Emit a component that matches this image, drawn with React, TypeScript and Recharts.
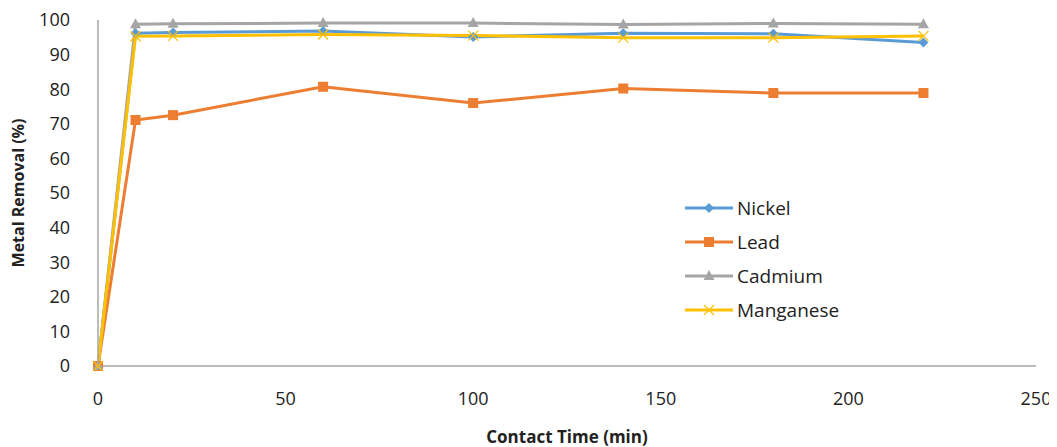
import React from "react";
import { LineChart, Line, XAxis, YAxis } from "recharts";

const contactTime = [0, 10, 20, 60, 100, 140, 180, 220];
const nickel = [0, 96.2, 96.4, 96.8, 95.1, 96.2, 96.0, 93.5];
const lead = [0, 71.1, 72.5, 80.7, 76.0, 80.2, 78.9, 78.9];
const cadmium = [0, 98.8, 98.9, 99.1, 99.1, 98.7, 99.0, 98.8];
const manganese = [0, 95.3, 95.4, 95.8, 95.5, 94.9, 94.9, 95.4];
const xTicks = [0, 50, 100, 150, 200, 250];
const yTicks = [0, 10, 20, 30, 40, 50, 60, 70, 80, 90, 100];

const data = contactTime.map((t, i) => ({
  t,
  Nickel: nickel[i],
  Lead: lead[i],
  Cadmium: cadmium[i],
  Manganese: manganese[i],
}));

const FONT = "'Open Sans', 'Liberation Sans', sans-serif";

type Shape = "diamond" | "square" | "triangle" | "cross";

const series: { key: string; color: string; shape: Shape }[] = [
  { key: "Nickel", color: "#5B9BD5", shape: "diamond" },
  { key: "Lead", color: "#ED7D31", shape: "square" },
  { key: "Cadmium", color: "#A5A5A5", shape: "triangle" },
  { key: "Manganese", color: "#FFC000", shape: "cross" },
];

function Marker({ cx, cy, shape, color }: { cx: number; cy: number; shape: Shape; color: string }) {
  if (cx == null || cy == null) return null;
  if (shape === "diamond")
    return <path d={`M${cx},${cy - 5}L${cx + 5},${cy}L${cx},${cy + 5}L${cx - 5},${cy}Z`} fill={color} />;
  if (shape === "square")
    return <rect x={cx - 5} y={cy - 5} width={10} height={10} fill={color} />;
  if (shape === "triangle")
    return <path d={`M${cx},${cy - 6}L${cx + 5.5},${cy + 4}L${cx - 5.5},${cy + 4}Z`} fill={color} />;
  return (
    <path
      d={`M${cx - 5},${cy - 5}L${cx + 5},${cy + 5}M${cx - 5},${cy + 5}L${cx + 5},${cy - 5}`}
      stroke={color}
      strokeWidth={1.2}
      fill="none"
    />
  );
}

// legend sits over the plot, same spot as in the source figure
function LegendBox() {
  return (
    <div style={{ position: "absolute", left: 677, top: 183, fontFamily: FONT, fontSize: 19, color: "#222" }}>
      {series.map((s) => (
        <div key={s.key} style={{ display: "flex", alignItems: "center", height: 34 }}>
          <svg width={52} height={14}>
            <line x1={0} y1={7} x2={48} y2={7} stroke={s.color} strokeWidth={3} />
            <Marker cx={24} cy={7} shape={s.shape} color={s.color} />
          </svg>
          <span>{s.key}</span>
        </div>
      ))}
    </div>
  );
}

export default function App() {
  return (
    <div style={{ width: 1049, height: 439, background: "#fff", position: "relative" }}>
      <LineChart
        width={1049}
        height={439}
        data={data}
        margin={{ top: 12, right: 21, bottom: 0, left: 0 }}
        style={{ overflow: "visible" }}
      >
        <XAxis
          dataKey="t"
          type="number"
          domain={[0, 250]}
          ticks={xTicks}
          interval={0}
          tickLine={false}
          axisLine={{ stroke: "#A6A6A6", strokeWidth: 1.5 }}
          tick={{ fill: "#222", fontSize: 18, fontFamily: FONT }}
          tickMargin={20}
          height={81}
          label={{
            value: "Contact Time (min)",
            position: "insideBottom",
            offset: 4,
            style: { fill: "#222", fontSize: 17, fontWeight: "bold", fontFamily: FONT },
          }}
        />
        <YAxis
          type="number"
          domain={[0, 100]}
          ticks={yTicks}
          interval={0}
          tickLine={false}
          axisLine={{ stroke: "#A6A6A6", strokeWidth: 1.5 }}
          tick={{ fill: "#222", fontSize: 18, fontFamily: FONT }}
          tickMargin={22}
          width={90}
          label={{
            value: "Metal Removal (%)",
            angle: -90,
            position: "insideLeft",
            offset: 10,
            style: { fill: "#222", fontSize: 16, fontWeight: "bold", fontFamily: FONT, textAnchor: "middle" },
          }}
        />
        {series.map((s) => (
          <Line
            key={s.key}
            dataKey={s.key}
            stroke={s.color}
            strokeWidth={3}
            isAnimationActive={false}
            dot={(p: any) => <Marker key={`${s.key}-${p.index}`} cx={p.cx} cy={p.cy} shape={s.shape} color={s.color} />}
            activeDot={false}
          />
        ))}
      </LineChart>
      <LegendBox />
    </div>
  );
}
